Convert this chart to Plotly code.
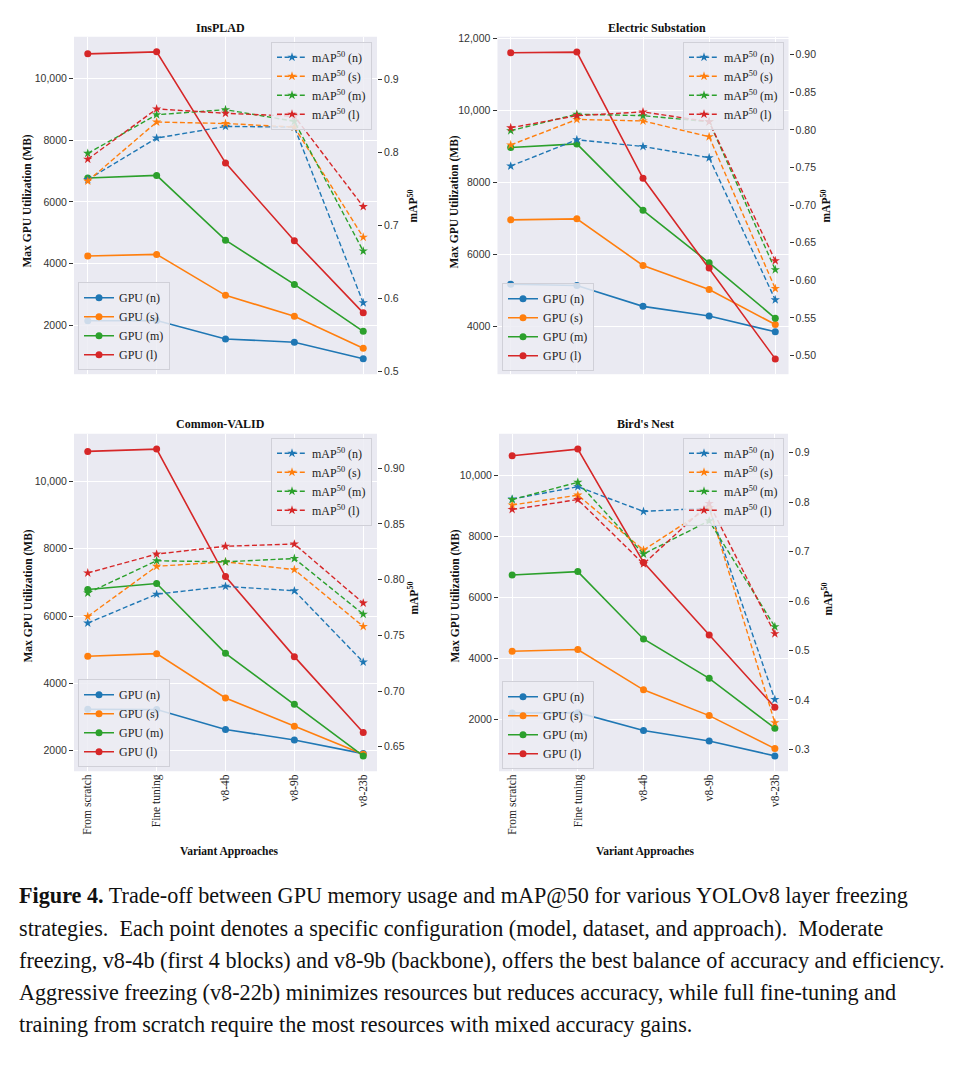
import plotly.graph_objects as go

# ---------------- data ----------------
categories = ["From scratch", "Fine tuning", "v8-4b", "v8-9b", "v8-23b"]
model_sizes = ["n", "s", "m", "l"]

insplad_gpu = {
    "n": [2140, 2150, 1550, 1442, 906],
    "s": [4241, 4295, 2965, 2290, 1249],
    "m": [6772, 6858, 4756, 3319, 1796],
    "l": [10804, 10869, 7265, 4735, 2397],
}
insplad_map = {
    "n": [0.763, 0.820, 0.836, 0.835, 0.594],
    "s": [0.761, 0.842, 0.840, 0.835, 0.684],
    "m": [0.799, 0.852, 0.859, 0.843, 0.665],
    "l": [0.791, 0.860, 0.854, 0.850, 0.726],
}
substation_gpu = {
    "n": [5174, 5138, 4560, 4294, 3853],
    "s": [6963, 6991, 5697, 5028, 4055],
    "m": [8972, 9073, 7229, 5771, 4229],
    "l": [11606, 11624, 8119, 5624, 3101],
}
substation_map = {
    "n": [0.752, 0.787, 0.778, 0.763, 0.574],
    "s": [0.780, 0.814, 0.812, 0.791, 0.589],
    "m": [0.799, 0.821, 0.819, 0.811, 0.614],
    "l": [0.803, 0.819, 0.824, 0.811, 0.626],
}
valid_gpu = {
    "n": [3228, 3218, 2628, 2313, 1909],
    "s": [4803, 4882, 3563, 2726, 1890],
    "m": [6791, 6969, 4892, 3376, 1841],
    "l": [10896, 10965, 7175, 4793, 2539],
}
valid_map = {
    "n": [0.761, 0.787, 0.794, 0.790, 0.726],
    "s": [0.767, 0.812, 0.816, 0.809, 0.758],
    "m": [0.788, 0.817, 0.816, 0.819, 0.769],
    "l": [0.806, 0.823, 0.830, 0.832, 0.779],
}
nest_gpu = {
    "n": [2220, 2229, 1645, 1299, 812],
    "s": [4242, 4297, 2976, 2132, 1050],
    "m": [6742, 6851, 4643, 3355, 1721],
    "l": [10649, 10866, 7154, 4773, 2403],
}
nest_map = {
    "n": [0.806, 0.831, 0.781, 0.788, 0.401],
    "s": [0.794, 0.814, 0.703, 0.789, 0.354],
    "m": [0.805, 0.840, 0.695, 0.762, 0.548],
    "l": [0.785, 0.805, 0.675, 0.797, 0.534],
}

panel_titles = ["InsPLAD", "Electric Substation", "Common-VALID", "Bird's Nest"]

gpu_ticks_a = [2000, 4000, 6000, 8000, 10000]
gpu_ticktext_a = ["2000", "4000", "6000", "8000", "10,000"]
gpu_ticks_b = [4000, 6000, 8000, 10000, 12000]
gpu_ticktext_b = ["4000", "6000", "8000", "10,000", "12,000"]

map_ticks_insplad = [0.5, 0.6, 0.7, 0.8, 0.9]
map_ticktext_insplad = ["0.5", "0.6", "0.7", "0.8", "0.9"]
map_ticks_substation = [0.50, 0.55, 0.60, 0.65, 0.70, 0.75, 0.80, 0.85, 0.90]
map_ticktext_substation = ["0.50", "0.55", "0.60", "0.65", "0.70", "0.75", "0.80", "0.85", "0.90"]
map_ticks_valid = [0.65, 0.70, 0.75, 0.80, 0.85, 0.90]
map_ticktext_valid = ["0.65", "0.70", "0.75", "0.80", "0.85", "0.90"]
map_ticks_nest = [0.3, 0.4, 0.5, 0.6, 0.7, 0.8, 0.9]
map_ticktext_nest = ["0.3", "0.4", "0.5", "0.6", "0.7", "0.8", "0.9"]

caption_lines = [
    "<b>Figure 4.</b> Trade-off between GPU memory usage and mAP@50 for various YOLOv8 layer freezing",
    "strategies.  Each point denotes a specific configuration (model, dataset, and approach).  Moderate",
    "freezing, v8-4b (first 4 blocks) and v8-9b (backbone), offers the best balance of accuracy and efficiency.",
    "Aggressive freezing (v8-22b) minimizes resources but reduces accuracy, while full fine-tuning and",
    "training from scratch require the most resources with mixed accuracy gains.",
]

# ---------------- styling / geometry ----------------
W, H = 976, 1070
COLORS = {"n": "#1f77b4", "s": "#ff7f0e", "m": "#2ca02c", "l": "#d62728"}
SERIF = "Liberation Serif"
SANS = "Liberation Sans"
BG = "#EAEAF2"


def px(x):
    return x / W


def py(y):
    return 1 - y / H


panels = [
    dict(gpu=insplad_gpu, mp=insplad_map, box=(74, 377, 32, 372),
         gr=(405, 11359), mr=(0.496, 0.959),
         gt=(gpu_ticks_a, gpu_ticktext_a), mt=(map_ticks_insplad, map_ticktext_insplad),
         bottom=False, ytitle=(28, 198), mtitle=(413, 203), ttl=(220, 23),
         leg_map=(372, 37), leg_gpu=(78, 368)),
    dict(gpu=substation_gpu, mp=substation_map, box=(497.5, 788.5, 32, 372),
         gr=(2675, 12050), mr=(0.475, 0.924),
         gt=(gpu_ticks_b, gpu_ticktext_b), mt=(map_ticks_substation, map_ticktext_substation),
         bottom=False, ytitle=(455, 199), mtitle=(826, 203), ttl=(657, 23),
         leg_map=(784, 37), leg_gpu=(502, 369)),
    dict(gpu=valid_gpu, mp=valid_map, box=(74, 377, 432, 772),
         gr=(1385, 11421), mr=(0.628, 0.931),
         gt=(gpu_ticks_a, gpu_ticktext_a), mt=(map_ticks_valid, map_ticktext_valid),
         bottom=True, ytitle=(29, 596), mtitle=(413, 598), ttl=(220, 422),
         leg_map=(372, 436), leg_gpu=(78, 768), xtitle=(229, 853)),
    dict(gpu=nest_gpu, mp=nest_map, box=(499, 788, 432, 772),
         gr=(309, 11369), mr=(0.256, 0.938),
         gt=(gpu_ticks_a, gpu_ticktext_a), mt=(map_ticks_nest, map_ticktext_nest),
         bottom=True, ytitle=(456, 596), mtitle=(827, 599), ttl=(645, 422),
         leg_map=(784, 436), leg_gpu=(502, 770), xtitle=(645, 853)),
]

fig = go.Figure()
layout = {}
annotations = []

for k, p in enumerate(panels, start=1):
    xname = "x" if k == 1 else f"x{k}"
    yl = 2 * k - 1
    yr = 2 * k
    ylname = "y" if yl == 1 else f"y{yl}"
    yrname = f"y{yr}"
    xkey = "xaxis" if k == 1 else f"xaxis{k}"
    ylkey = "yaxis" if yl == 1 else f"yaxis{yl}"
    yrkey = f"yaxis{yr}"
    lg_gpu = "legend" if k == 1 else f"legend{2 * k - 1}"
    lg_map = f"legend{2 * k}"

    for s in model_sizes:
        fig.add_trace(go.Scatter(
            x=categories, y=p["gpu"][s], mode="lines+markers",
            name=f"GPU ({s})", xaxis=xname, yaxis=ylname, legend=lg_gpu,
            line=dict(color=COLORS[s], width=1.6),
            marker=dict(symbol="circle", size=7, color=COLORS[s]),
        ))
    for s in model_sizes:
        fig.add_trace(go.Scatter(
            x=categories, y=p["mp"][s], mode="lines+markers",
            name=f"mAP<sup>50</sup> ({s})", xaxis=xname, yaxis=yrname, legend=lg_map,
            line=dict(color=COLORS[s], width=1.4, dash="5px,2.6px"),
            marker=dict(symbol="star", size=7, color=COLORS[s], line=dict(width=0)),
        ))

    x0, x1, y0, y1 = p["box"]
    layout[xkey] = dict(
        domain=[px(x0), px(x1)], anchor=ylname, range=[-0.2, 4.2],
        type="category", categoryorder="array", categoryarray=categories,
        showgrid=True, gridcolor="white", gridwidth=1.2, showline=False, zeroline=False,
        ticks="", showticklabels=p["bottom"], tickangle=-90,
        tickfont=dict(family=SERIF, size=11.5, color="#222"),
    )
    layout[ylkey] = dict(
        domain=[py(y1), py(y0)], anchor=xname, range=list(p["gr"]),
        tickvals=p["gt"][0], ticktext=p["gt"][1],
        showgrid=True, gridcolor="white", gridwidth=1.2, zeroline=False, showline=False,
        ticks="outside", ticklen=4, tickwidth=1, tickcolor="#333",
        tickfont=dict(family=SANS, size=10.5, color="#333"),
    )
    layout[yrkey] = dict(
        overlaying=ylname, side="right", anchor=xname, range=list(p["mr"]),
        tickvals=p["mt"][0], ticktext=p["mt"][1],
        showgrid=False, zeroline=False, showline=False,
        ticks="outside", ticklen=4, tickwidth=1, tickcolor="#333",
        tickfont=dict(family=SANS, size=10.5, color="#333"),
    )
    leg_common = dict(
        bgcolor="rgba(236,236,243,0.85)", bordercolor="#d0d0d8", borderwidth=1,
        font=dict(family=SERIF, size=12, color="#222"), itemwidth=30,
        tracegroupgap=0, traceorder="normal",
    )
    layout[lg_gpu] = dict(x=px(p["leg_gpu"][0]), y=py(p["leg_gpu"][1]),
                          xanchor="left", yanchor="bottom", **leg_common)
    layout[lg_map] = dict(x=px(p["leg_map"][0]), y=py(p["leg_map"][1]),
                          xanchor="right", yanchor="top", **leg_common)

    annotations.append(dict(text=f"<b>{panel_titles[k - 1]}</b>", x=px(p["ttl"][0]), y=py(p["ttl"][1]),
                            xref="paper", yref="paper", showarrow=False, xanchor="center", yanchor="middle",
                            font=dict(family=SERIF, size=12, color="#111")))
    annotations.append(dict(text="<b>Max GPU Utilization (MB)</b>", x=px(p["ytitle"][0]), y=py(p["ytitle"][1]),
                            xref="paper", yref="paper", showarrow=False, textangle=-90,
                            xanchor="center", yanchor="middle",
                            font=dict(family=SERIF, size=11.5, color="#111")))
    annotations.append(dict(text="<b>mAP<sup>50</sup></b>", x=px(p["mtitle"][0]), y=py(p["mtitle"][1]),
                            xref="paper", yref="paper", showarrow=False, textangle=-90,
                            xanchor="center", yanchor="middle",
                            font=dict(family=SERIF, size=11.5, color="#111")))
    if p["bottom"]:
        annotations.append(dict(text="<b>Variant Approaches</b>", x=px(p["xtitle"][0]), y=py(p["xtitle"][1]),
                                xref="paper", yref="paper", showarrow=False,
                                xanchor="center", yanchor="middle",
                                font=dict(family=SERIF, size=11.5, color="#111")))

caption_y = [897, 930, 963, 995, 1027]
for line, yy in zip(caption_lines, caption_y):
    annotations.append(dict(text=line, x=px(17), y=py(yy), xref="paper", yref="paper",
                            showarrow=False, xanchor="left", yanchor="middle",
                            font=dict(family=SERIF, size=22.2, color="#111")))

fig.update_layout(
    width=W, height=H, margin=dict(l=0, r=0, t=0, b=0),
    paper_bgcolor="white", plot_bgcolor=BG,
    annotations=annotations, **layout,
)

fig.write_html(
    "out.html",
    config={"displayModeBar": False},
    post_script="document.body.style.margin='0';document.body.style.padding='0';document.body.style.overflow='hidden';",
)
